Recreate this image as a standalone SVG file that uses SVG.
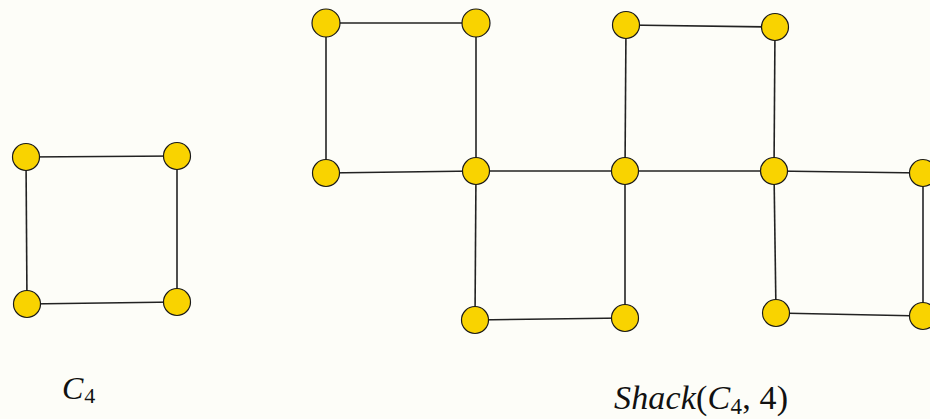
<svg xmlns="http://www.w3.org/2000/svg" width="930" height="419" viewBox="0 0 930 419">
<style>
.e{stroke:#222;stroke-width:1.6;fill:none}
.n{fill:#f9d300;stroke:#1a1a1a;stroke-width:1.2}
.t{font-family:"Liberation Serif","DejaVu Serif",serif;fill:#111}
.i{font-style:italic}
</style>
<rect width="930" height="419" fill="#fdfdf8"/>
<g id="connectors">
<line class="e" x1="26" y1="157" x2="177" y2="156"/>
<line class="e" x1="26" y1="157" x2="27" y2="304"/>
<line class="e" x1="177" y1="156" x2="177" y2="302"/>
<line class="e" x1="27" y1="304" x2="177" y2="302"/>
<line class="e" x1="326" y1="23" x2="476" y2="23"/>
<line class="e" x1="326" y1="23" x2="326" y2="173"/>
<line class="e" x1="326" y1="173" x2="476" y2="171"/>
<line class="e" x1="476" y1="23" x2="476" y2="171"/>
<line class="e" x1="476" y1="171" x2="625" y2="171"/>
<line class="e" x1="476" y1="171" x2="475" y2="320"/>
<line class="e" x1="475" y1="320" x2="625" y2="318"/>
<line class="e" x1="625" y1="171" x2="625" y2="318"/>
<line class="e" x1="625" y1="171" x2="626" y2="25"/>
<line class="e" x1="626" y1="25" x2="775" y2="27"/>
<line class="e" x1="775" y1="27" x2="774" y2="171"/>
<line class="e" x1="625" y1="171" x2="774" y2="171"/>
<line class="e" x1="774" y1="171" x2="923" y2="173"/>
<line class="e" x1="774" y1="171" x2="776" y2="313"/>
<line class="e" x1="776" y1="313" x2="923" y2="316"/>
<line class="e" x1="923" y1="173" x2="923" y2="316"/>
</g>
<g id="c4-a"><circle class="n" cx="26" cy="157" r="13.5"/></g>
<g id="c4-b"><circle class="n" cx="177" cy="156" r="13.5"/></g>
<g id="c4-c"><circle class="n" cx="27" cy="304" r="13.5"/></g>
<g id="c4-d"><circle class="n" cx="177" cy="302" r="13.5"/></g>
<g id="s1"><circle class="n" cx="326" cy="23" r="14"/></g>
<g id="s2"><circle class="n" cx="476" cy="23" r="14"/></g>
<g id="s3"><circle class="n" cx="326" cy="173" r="13.5"/></g>
<g id="s4"><circle class="n" cx="476" cy="171" r="13.5"/></g>
<g id="s5"><circle class="n" cx="475" cy="320" r="13.5"/></g>
<g id="s6"><circle class="n" cx="625" cy="318" r="13.5"/></g>
<g id="s7"><circle class="n" cx="625" cy="171" r="13.5"/></g>
<g id="s8"><circle class="n" cx="626" cy="25" r="13.5"/></g>
<g id="s9"><circle class="n" cx="775" cy="27" r="13.5"/></g>
<g id="s10"><circle class="n" cx="774" cy="171" r="13.5"/></g>
<g id="s11"><circle class="n" cx="923" cy="173" r="13.5"/></g>
<g id="s12"><circle class="n" cx="776" cy="313" r="13.5"/></g>
<g id="s13"><circle class="n" cx="923" cy="316" r="13.5"/></g>
<g id="labels">
<text class="t" x="62" y="399" font-size="32"><tspan class="i">C</tspan><tspan font-size="22" dx="1" dy="4">4</tspan></text>
<text class="t" x="614" y="409" font-size="34" textLength="174" lengthAdjust="spacing"><tspan class="i">Shack</tspan>(<tspan class="i">C</tspan><tspan font-size="23" dy="5">4</tspan><tspan dy="-5">, 4)</tspan></text>
</g>
</svg>
